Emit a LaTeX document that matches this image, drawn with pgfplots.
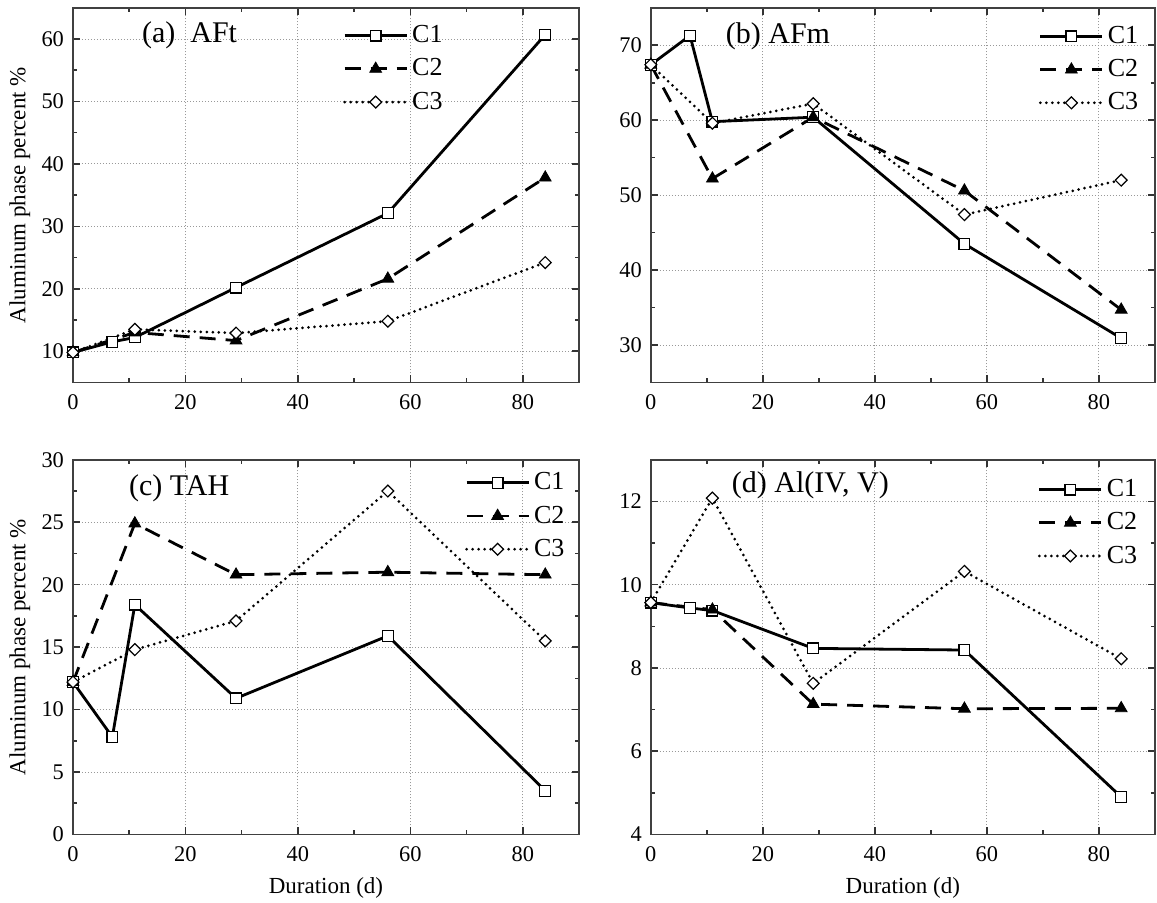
\documentclass[border=0pt]{standalone}
\usepackage{fontspec}
\setmainfont{Liberation Serif}
\usepackage{pgfplots}
\pgfplotsset{compat=1.18}

\pgfplotsset{
  panel/.style={
    scale only axis,
    width=253pt, height=187.3pt,
    xmin=0, xmax=90,
    xtick={0,20,...,80},
    minor x tick num=1,
    minor y tick num=1,
    tick align=inside,
    xtick pos=both, ytick pos=both,
    major tick length=3.5pt,
    minor tick length=2pt,
    every tick/.style={black!80, line width=0.8pt},
    axis line style={black!75, line width=0.9pt},
    grid=major,
    major grid style={black!40, line width=0.4pt, dash pattern=on 0.5pt off 1pt},
    tick label style={font=\fontsize{11.2}{12}\selectfont},
    /pgf/number format/assume math mode=true,
    xticklabel style={yshift=-2.8pt},
    yticklabel style={xshift=-1pt},
    label style={font=\fontsize{11.5}{13}\selectfont},
    xlabel style={at={(axis description cs:0.5,-0.144)}, anchor=center},
    ylabel style={at={(axis description cs:-0.105,0.5)}, anchor=center},
    legend cell align=left,
    legend style={draw=none, fill=none, inner sep=0pt, outer sep=0pt,
      font=\fontsize{13}{14}\selectfont, row sep=2.5pt, anchor=west},
    legend image code/.code={\draw[mark repeat=2,mark phase=2]
      plot coordinates {(0pt,0pt) (15.5pt,0pt) (31pt,0pt)};},
    clip=false,
  },
  c1/.style={black, line width=1.4pt, mark=square*, mark size=2.7pt,
    mark options={solid, fill=white, line width=0.6pt}},
  c2/.style={black, line width=1.4pt, dash pattern=on 8pt off 5pt,
    mark=triangle*, mark size=3.4pt, mark options={solid, fill=black, line width=0.4pt}},
  c3/.style={black, line width=1.5pt, line cap=round, dash pattern=on 0pt off 3pt,
    mark=square*, mark size=2.1pt,
    mark options={solid, rotate=45, fill=white, line width=0.6pt}},
}
\tikzset{ptitle/.style={anchor=base west, font=\fontsize{15}{16}\selectfont}}

\begin{document}
\begin{tikzpicture}
\path[use as bounding box] (0,0) rectangle (578.5pt,-451pt);

% (a) AFt
\begin{axis}[panel, at={(36.5pt,-191.2pt)}, anchor=south west,
  ymin=5, ymax=65, ytick={10,20,...,60},
  ylabel={Aluminum phase percent \%},
  legend style={at={(axis description cs:0.534,0.837)}}]
\addplot[c1] coordinates {(0,9.8) (7,11.5) (11,12.2) (29,20.2) (56,32.1) (84,60.7)};
\addplot[c2] coordinates {(0,9.8) (11,13.0) (29,11.7) (56,21.6) (84,37.8)};
\addplot[c3] coordinates {(0,9.8) (11,13.5) (29,12.9) (56,14.8) (84,24.2)};
\legend{C1,C2,C3}
\node[ptitle] at (axis description cs:0.1225,0.907) {(a)\hspace{0.5em}AFt};
\end{axis}

% (b) AFm
\begin{axis}[panel, at={(325.4pt,-191.2pt)}, anchor=south west, width=252pt,
  ymin=25, ymax=75, ytick={30,40,...,70},
  legend style={at={(axis description cs:0.770,0.835)}}]
\addplot[c1] coordinates {(0,67.4) (7,71.3) (11,59.8) (29,60.4) (56,43.5) (84,30.9)};
\addplot[c2] coordinates {(0,67.4) (11,52.2) (29,60.4) (56,50.6) (84,34.7)};
\addplot[c3] coordinates {(0,67.4) (11,59.6) (29,62.2) (56,47.4) (84,52.0)};
\legend{C1,C2,C3}
\node[ptitle] at (axis description cs:0.135,0.904) {(b) AFm};
\end{axis}

% (c) TAH
\begin{axis}[panel, at={(36.5pt,-417.2pt)}, anchor=south west,
  ymin=0, ymax=30, ytick={0,5,...,30},
  xlabel={Duration (d)},
  ylabel={Aluminum phase percent \%},
  legend style={at={(axis description cs:0.775,0.850)}}]
\addplot[c1] coordinates {(0,12.2) (7,7.8) (11,18.4) (29,10.9) (56,15.9) (84,3.5)};
\addplot[c2] coordinates {(0,12.2) (11,24.9) (29,20.8) (56,21.0) (84,20.8)};
\addplot[c3] coordinates {(0,12.2) (11,14.8) (29,17.1) (56,27.5) (84,15.5)};
\legend{C1,C2,C3}
\node[ptitle] at (axis description cs:0.097,0.906) {(c) TAH};
\end{axis}

% (d) Al(IV, V)
\begin{axis}[panel, at={(325.4pt,-417.2pt)}, anchor=south west, width=252pt,
  ymin=4, ymax=13, ytick={4,6,...,12},
  xlabel={Duration (d)},
  legend style={at={(axis description cs:0.768,0.832)}}]
\addplot[c1] coordinates {(0,9.57) (7,9.44) (11,9.38) (29,8.47) (56,8.43) (84,4.9)};
\addplot[c2] coordinates {(0,9.57) (11,9.40) (29,7.13) (56,7.02) (84,7.03)};
\addplot[c3] coordinates {(0,9.57) (11,12.08) (29,7.63) (56,10.32) (84,8.22)};
\legend{C1,C2,C3}
\node[ptitle] at (axis description cs:0.147,0.912) {(d) Al(IV, V)};
\end{axis}
\end{tikzpicture}
\end{document}
